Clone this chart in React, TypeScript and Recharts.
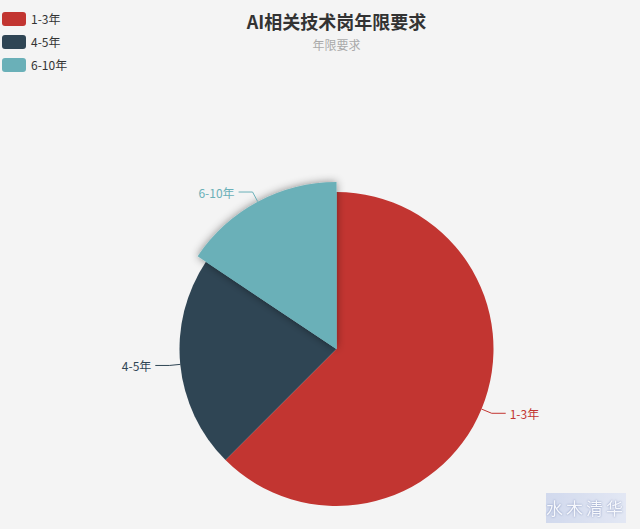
import { PieChart, Pie, Cell } from "recharts";

const categories = ["1-3年", "4-5年", "6-10年"];
const counts = [40, 14, 10];
const colors = ["#c23531", "#2f4554", "#6ab0b8"];
const highlighted = 2; // the hovered slice, drawn larger with a shadow

const data = categories.map((name, i) => ({ name, value: counts[i] }));

const W = 640;
const H = 529;
const CX = 336.5;
const CY = 349;
const R = 157;
const FONT = '"Noto Sans CJK SC", "Noto Sans", sans-serif';
const RAD = Math.PI / 180;

function renderLabel(props: any) {
  const { cx, cy, midAngle, outerRadius, index, name } = props;
  const r = index === highlighted ? outerRadius + 10 : outerRadius;
  const cos = Math.cos(-midAngle * RAD);
  const sin = Math.sin(-midAngle * RAD);
  const x0 = cx + r * cos;
  const y0 = cy + r * sin;
  const x1 = cx + (r + 11) * cos;
  const y1 = cy + (r + 11) * sin;
  const right = cos >= 0;
  const x2 = x1 + (right ? 14 : -14);
  const c = colors[index];
  return (
    <g key={`lbl-${index}`}>
      <polyline points={`${x0},${y0} ${x1},${y1} ${x2},${y1}`} fill="none" stroke={c} strokeWidth={1} />
      <text x={x2 + (right ? 4 : -4)} y={y1} fill={c} fontSize={12} fontFamily={FONT}
        textAnchor={right ? "start" : "end"} dominantBaseline="central">
        {name}
      </text>
    </g>
  );
}

export default function App() {
  return (
    <div style={{ position: "absolute", left: 0, top: 0, width: W, height: H, background: "#f4f4f4", overflow: "hidden" }}>
      <div style={{ position: "absolute", left: CX - 150, width: 300, top: 8, textAlign: "center", fontFamily: FONT }}>
        <div style={{ fontSize: 18, fontWeight: "bold", color: "#333", lineHeight: "26px" }}>AI相关技术岗年限要求</div>
        <div style={{ fontSize: 12, color: "#aaa", lineHeight: "20px", marginTop: 1 }}>年限要求</div>
      </div>
      {/* legend */}
      <div style={{ position: "absolute", left: 2, top: 7, fontFamily: FONT, fontSize: 12, color: "#333" }}>
        {categories.map((c, i) => (
          <div key={c} style={{ display: "flex", alignItems: "center", height: 23 }}>
            <div style={{ width: 24, height: 14, borderRadius: 3, background: colors[i], marginRight: 5 }} />
            <span>{c}</span>
          </div>
        ))}
      </div>
      <div style={{ position: "absolute", left: 0, top: 0 }}>
        <PieChart width={W} height={H} margin={{ top: 0, right: 0, bottom: 0, left: 0 }}>
          <defs>
            <filter id="sliceShadow" x="-30%" y="-30%" width="160%" height="160%">
              <feDropShadow dx="0" dy="0" stdDeviation="4" floodColor="#000" floodOpacity="0.45" />
            </filter>
          </defs>
          <Pie
            data={data}
            dataKey="value"
            nameKey="name"
            cx={CX}
            cy={CY}
            outerRadius={R}
            startAngle={90}
            endAngle={-270}
            stroke="none"
            label={renderLabel}
            labelLine={false}
            isAnimationActive={false}
          >
            {data.map((d, i) => (
              <Cell key={d.name} fill={colors[i]} />
            ))}
          </Pie>
          <Pie
            data={data}
            dataKey="value"
            nameKey="name"
            cx={CX}
            cy={CY}
            outerRadius={R + 10}
            startAngle={90}
            endAngle={-270}
            stroke="none"
            isAnimationActive={false}
            legendType="none"
          >
            {data.map((d, i) => (
              <Cell
                key={d.name}
                fill={i === highlighted ? colors[i] : "none"}
                style={i === highlighted ? { filter: "url(#sliceShadow)" } : undefined}
              />
            ))}
          </Pie>
        </PieChart>
      </div>
      <div style={{
        position: "absolute", left: 546, top: 493, width: 80, height: 30,
        background: "linear-gradient(90deg, #c9d3ec, #dfe5f4)", opacity: 0.8,
        fontFamily: FONT, fontSize: 17, color: "#f7f9ff", letterSpacing: 3,
        textAlign: "center", lineHeight: "30px", textShadow: "0 0 2px #5a6ea8",
      }}>
        水木清华
      </div>
    </div>
  );
}
